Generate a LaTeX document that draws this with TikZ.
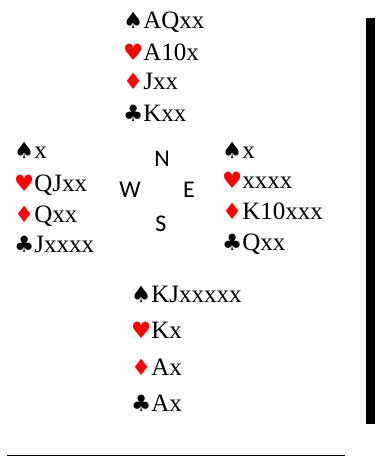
\documentclass[tikz,border=0pt]{standalone}
\usepackage{fontspec}
\setmainfont{Liberation Serif}
\newfontfamily\suitfont[Scale=0.9]{DejaVu Sans}
\newfontfamily\compassfont{Carlito}
\usetikzlibrary{positioning}
\definecolor{suitRed}{HTML}{FF0000}
\newcommand{\suitS}{{\suitfont\char"2660}}
\newcommand{\suitH}{{\color{suitRed}\suitfont\char"2665}}
\newcommand{\suitD}{{\color{suitRed}\suitfont\char"2666}}
\newcommand{\suitC}{{\suitfont\char"2663}}

\begin{document}
\begin{tikzpicture}[x=1pt, y=-1pt,
  holding/.style={anchor=base west, inner sep=0pt, font=\fontsize{25}{30}\selectfont},
  seat/.style={inner sep=0pt, font=\compassfont\fontsize{24}{28}\selectfont},
]
  \useasboundingbox (0,0) rectangle (375,457);

  % north hand
  \node[holding] (n-s) at (123,29) {\suitS AQxx};
  \node[holding] (n-h) at (123,61) {\suitH A10x};
  \node[holding] (n-d) at (123,90) {\suitD Jxx};
  \node[holding] (n-c) at (123,122) {\suitC Kxx};

  % west hand
  \node[holding] (w-s) at (14,159) {\suitS x};
  \node[holding] (w-h) at (14,191) {\suitH QJxx};
  \node[holding] (w-d) at (14,222) {\suitD Qxx};
  \node[holding] (w-c) at (14,252) {\suitC Jxxxx};

  % east hand
  \node[holding] (e-s) at (222,158) {\suitS x};
  \node[holding] (e-h) at (222,188) {\suitH xxxx};
  \node[holding] (e-d) at (222,219) {\suitD K10xxx};
  \node[holding] (e-c) at (222,250) {\suitC Qxx};

  % south hand
  \node[holding] (s-s) at (131,302) {\suitS KJxxxxx};
  \node[holding] (s-h) at (131,338) {\suitH Kx};
  \node[holding] (s-d) at (131,375) {\suitD Ax};
  \node[holding] (s-c) at (131,411) {\suitC Ax};

  % compass
  \node[seat] (north) at (162,159) {N};
  \node[seat] (west) at (130,190) {W};
  \node[seat] (east) at (189,190) {E};
  \node[seat] (south) at (161,224) {S};

  % rules
  \fill (366,18) rectangle (375,424);
  \draw[line width=1pt] (7,455) -- (345,455);
\end{tikzpicture}
\end{document}
